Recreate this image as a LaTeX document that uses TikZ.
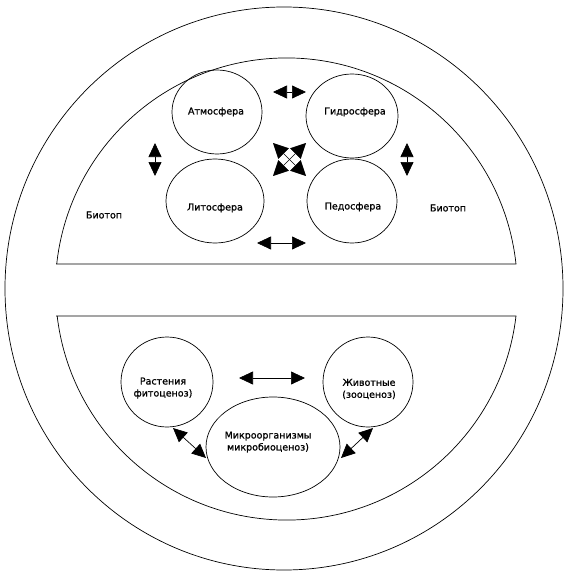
\documentclass[tikz,border=0pt]{standalone}
\usepackage{fontspec}
\setmainfont{DejaVu Sans}
\newfontfamily\lblfont{DejaVu Sans}[FakeBold=1.0]
\usetikzlibrary{arrows.meta,shapes.geometric}
\begin{document}
\begin{tikzpicture}[x=1pt,y=-1pt,
  line width=0.7pt,
  ell/.style={draw,ellipse,inner sep=0pt},
  lbl/.style={font=\lblfont\fontsize{9.5}{12}\selectfont,align=center,inner sep=0pt},
  dbl/.style={{Triangle[length=14pt,width=13pt]}-{Triangle[length=14pt,width=13pt]},line width=0.7pt},
  dbls/.style={{Triangle[length=15pt,width=15pt]}-{Triangle[length=15pt,width=15pt]},line width=0.6pt}]
\useasboundingbox (0,0) rectangle (571,575);
% outer ring
\draw (284,288.5) ellipse [x radius=279, y radius=281.5];
% inner segments
\draw (56,264) -- (516,264) arc[start angle=-6.2, end angle=-173.8, radius=231] -- cycle;
\draw (56,316) -- (516,316) arc[start angle=6.7, end angle=173.3, radius=231] -- cycle;
% biotope spheres
\node[ell,minimum width=90pt,minimum height=84pt] (atm) at (217,112) {};
\node[ell,minimum width=92pt,minimum height=84pt] (gid) at (352,116) {};
\node[ell,minimum width=98pt,minimum height=84pt] (lit) at (215,201) {};
\node[ell,minimum width=90pt,minimum height=84pt] (ped) at (352,201) {};
\node[lbl] (tatm) at (216,112) {Атмосфера};
\node[lbl] (tgid) at (355,112) {Гидросфера};
\node[lbl] (tlit) at (215,208) {Литосфера};
\node[lbl] (tped) at (353,207) {Педосфера};
\node[lbl] (bio1) at (104,215) {Биотоп};
\node[lbl] (bio2) at (448,208) {Биотоп};
% arrows between spheres
\coordinate (a1) at (273,92); \coordinate (a2) at (306,92);
\coordinate (b1) at (155,143); \coordinate (b2) at (155,176);
\coordinate (c1) at (407,143); \coordinate (c2) at (407,176);
\coordinate (d1) at (257,243); \coordinate (d2) at (306,243);
\coordinate (x1) at (273,143); \coordinate (x2) at (306,176);
\coordinate (x3) at (306,143); \coordinate (x4) at (273,176);
\draw[dbl] (a1) -- (a2);
\draw[dbl] (b1) -- (b2);
\draw[dbl] (c1) -- (c2);
\draw[dbl] (d1) -- (d2);
\draw[dbls] (x1) -- (x2);
\draw[dbls] (x3) -- (x4);
% biocenosis
\node[ell,minimum width=92pt,minimum height=90pt] (ras) at (167,382) {};
\node[ell,minimum width=90pt,minimum height=90pt] (ziv) at (368,382) {};
\node[ell,minimum width=134pt,minimum height=100pt] (mik) at (273,447) {};
\node[lbl] (tras) at (163,388) {Растения\\фитоценоз)};
\node[lbl] (tziv) at (369,389) {Животные\\(зооценоз)};
\node[lbl] (tmik) at (268,442) {Микроорганизмы\\микробиоценоз)};
\coordinate (e1) at (239,378); \coordinate (e2) at (305,378);
\coordinate (f1) at (173,428); \coordinate (f2) at (206,458);
\coordinate (g1) at (341,458); \coordinate (g2) at (373,428);
\draw[dbl] (e1) -- (e2);
\draw[dbl] (f1) -- (f2);
\draw[dbl] (g1) -- (g2);
\end{tikzpicture}
\end{document}
